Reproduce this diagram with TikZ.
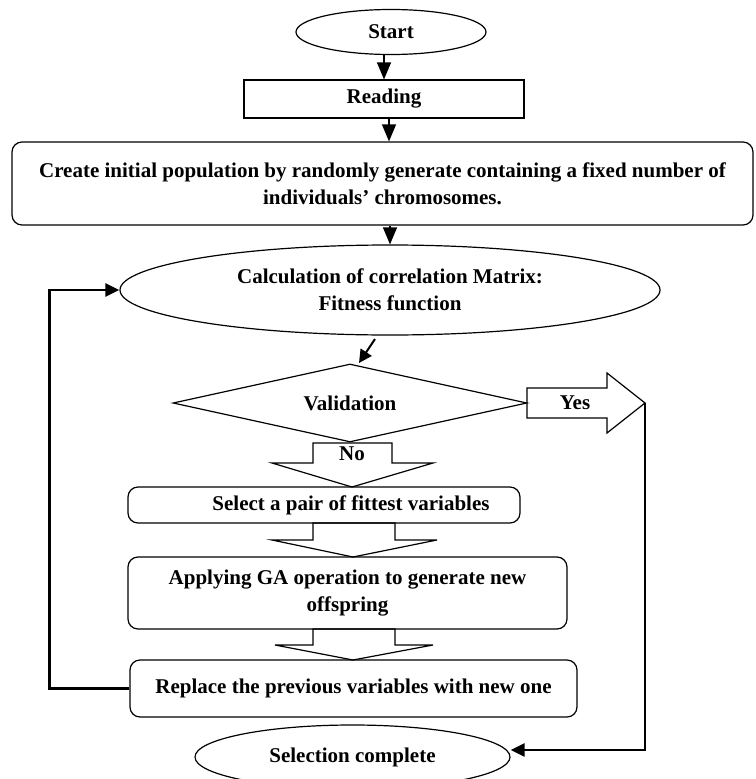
\documentclass[tikz,border=0pt]{standalone}
\usepackage{fontspec}
\setmainfont{Liberation Serif}
\usetikzlibrary{shapes.geometric,arrows.meta}

\begin{document}
\begin{tikzpicture}[x=1pt,y=-1pt,
    every node/.style={font=\fontsize{21}{27}\selectfont\bfseries,align=center,inner sep=0pt},
    oval/.style={draw,ellipse,line width=1.2pt},
    sqbox/.style={draw,rectangle,line width=1.2pt},
    rbox/.style={draw,rectangle,rounded corners=10pt,line width=1.2pt},
    decide/.style={draw,diamond,aspect=4.5,line width=1.2pt},
    fat/.style={draw,line width=1.2pt,line join=miter},
    sarrow/.style={line width=1.2pt,-{Triangle[width=14pt,length=17pt]}},
    flow/.style={line width=2.6pt,-{Triangle[width=13pt,length=14pt]}}]
    \useasboundingbox (0,0) rectangle (755,779);
    % main chain
    \node[oval,minimum width=190pt,minimum height=45pt] (start) at (391,32) {Start};
    \node[sqbox,minimum width=280pt,minimum height=38pt] (reading) at (384,99) {Reading};
    \node[rbox,minimum width=741pt,minimum height=83pt] (create) at (382.5,183.5)
        {Create initial population by randomly generate containing a fixed number of\\individuals’ chromosomes.};
    \node[oval,minimum width=540pt,minimum height=90pt] (calc) at (390,290)
        {Calculation of correlation Matrix:\\Fitness function};
    \node[decide,minimum width=354pt,minimum height=78pt] (valid) at (350,403) {Validation};
    \node[rbox,minimum width=392pt,minimum height=36pt,
        label={[xshift=27pt]center:Select a pair of fittest variables}] (select) at (324,505) {};
    \node[rbox,minimum width=439pt,minimum height=72pt] (apply) at (347.5,593)
        {Applying GA operation to generate new\\offspring};
    \node[rbox,minimum width=447pt,minimum height=57pt] (replace) at (353.5,688.5)
        {Replace the previous variables with new one};
    \node[oval,minimum width=315pt,minimum height=64pt] (sel) at (352.5,757) {Selection complete};
    % small arrows
    \draw[sarrow] (reading.north |- start.south) -- (reading.north);
    \draw[sarrow] ([xshift=5pt]reading.south) -- ([xshift=5pt]reading.south |- create.north);
    \draw[sarrow] (calc.north |- create.south) -- (calc.north);
    \coordinate (dgA) at (375,339);
    \coordinate (dgB) at (359,363);
    \draw[line width=2pt,-{Triangle[width=13pt,length=13pt]}] (dgA) -- (dgB);
    % block arrows
    \draw[fat] (527,388) -- (607,388) -- (607,373) -- (645,403) -- (607,433) -- (607,418) -- (527,418) -- cycle;
    \node (yes) at (575,403) {Yes};
    \draw[fat] (313,443) -- (392,443) -- (392,463) -- (433,463) -- (352,487) -- (272,463) -- (313,463) -- cycle;
    \node (no) at (352,454) {No};
    \draw[fat] (313,523) -- (395,523) -- (395,540) -- (437,540) -- (353,557) -- (272,540) -- (313,540) -- cycle;
    \draw[fat] (313,629) -- (395,629) -- (395,645) -- (433,645) -- (353,660) -- (275,645) -- (313,645) -- cycle;
    % loops
    \coordinate (yestip) at (645,403);
    \draw[flow] (yestip) |- ([yshift=7pt]sel.east);
    \draw[flow] (replace.west) -- ++(-80,0) |- (calc.west);
\end{tikzpicture}
\end{document}
